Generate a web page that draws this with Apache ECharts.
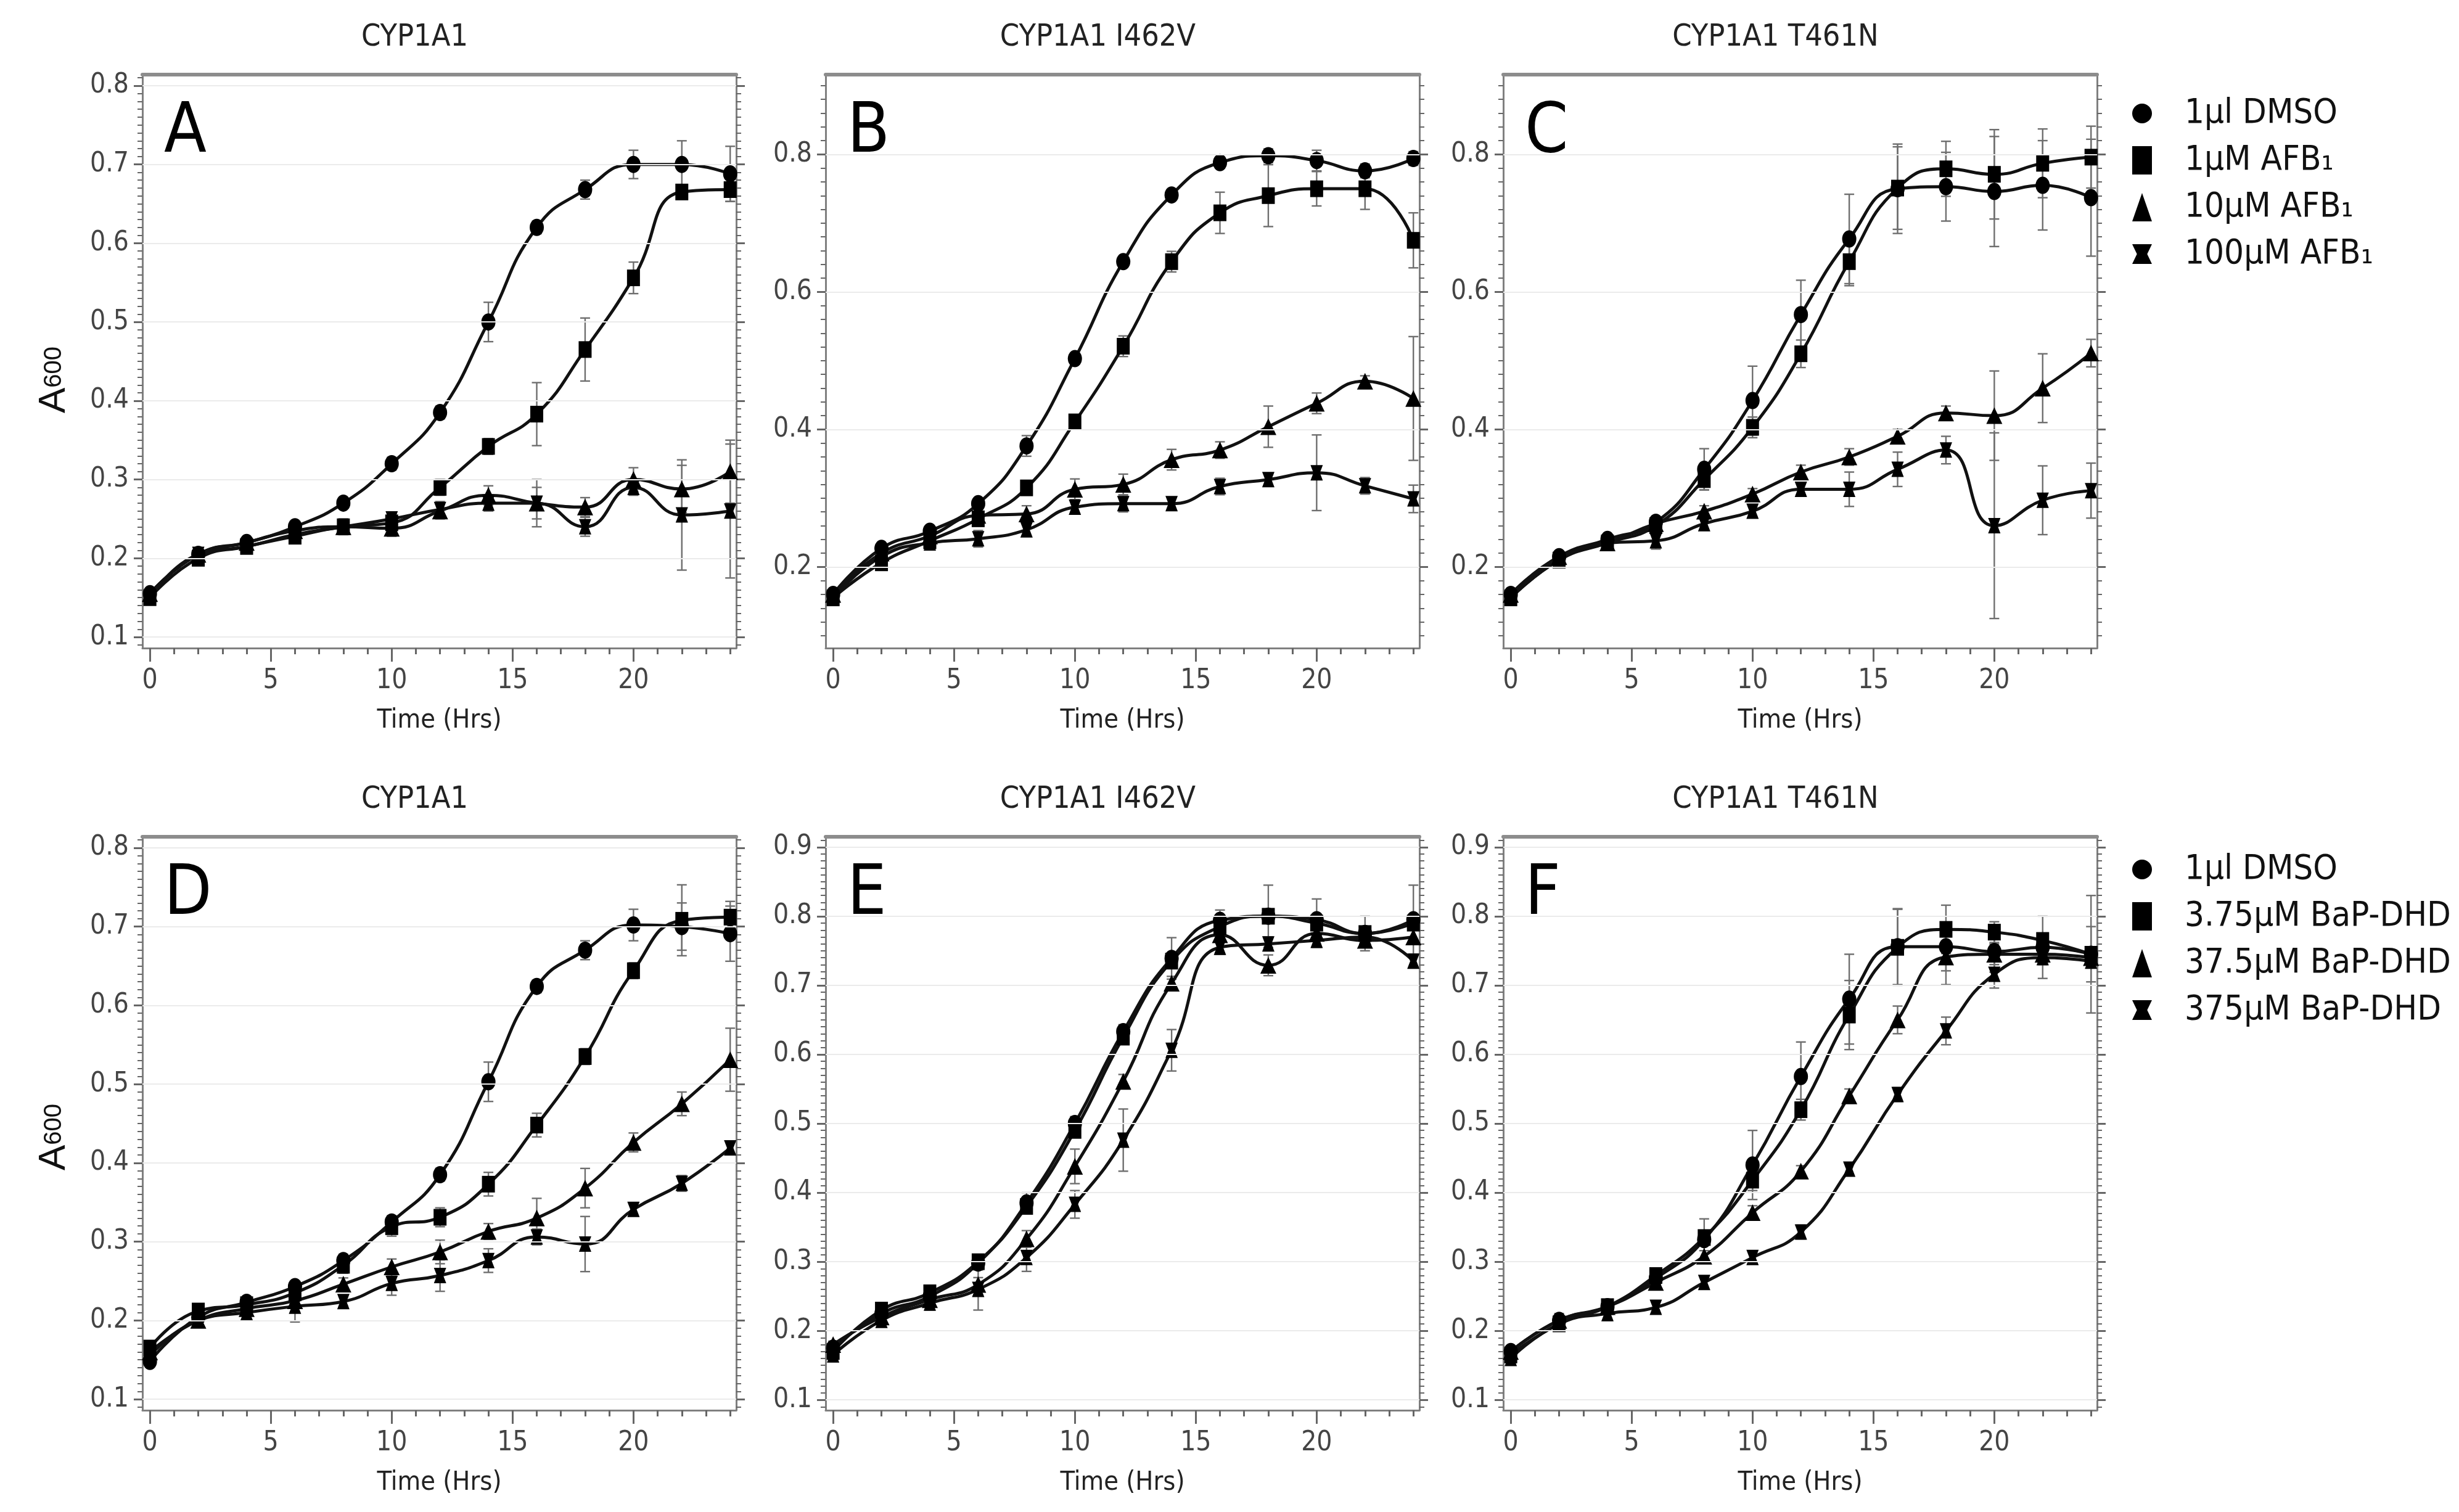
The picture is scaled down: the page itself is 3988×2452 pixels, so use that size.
<!DOCTYPE html>
<html><head><meta charset="utf-8">
<script src="https://cdn.jsdelivr.net/npm/echarts/dist/echarts.min.js"></script>
<style>html,body{margin:0;padding:0;background:#fff}#c{width:3988px;height:2452px}</style>
</head><body><div id="c"></div>
<script>
// ---------- DATA ----------
const hours = [0,2,4,6,8,10,12,14,16,18,20,22,24];
const xLabelTicks = [0,5,10,15,20];
const panelTitles = ['CYP1A1','CYP1A1 I462V','CYP1A1 T461N','CYP1A1','CYP1A1 I462V','CYP1A1 T461N'];
const panelLetters = ['A','B','C','D','E','F'];
const namesTop = ['1µl DMSO','1µM AFB₁','10µM AFB₁','100µM AFB₁'];
const namesBottom = ['1µl DMSO','3.75µM BaP-DHD','37.5µM BaP-DHD','375µM BaP-DHD'];
const yTicksAD = [0.1,0.2,0.3,0.4,0.5,0.6,0.7,0.8];
const yTicksBC = [0.2,0.4,0.6,0.8];
const yTicksEF = [0.1,0.2,0.3,0.4,0.5,0.6,0.7,0.8,0.9];

const A_dmso      = [0.155,0.205,0.22,0.24,0.27,0.32,0.385,0.50,0.62,0.668,0.70,0.70,0.688];
const A_dmso_err  = [0,0,0,0,0,0.008,0.008,0.025,0.008,0.012,0.018,0.03,0.035];
const A_afb1      = [0.15,0.20,0.215,0.228,0.24,0.245,0.29,0.342,0.383,0.465,0.556,0.665,0.668];
const A_afb1_err  = [0,0,0,0.008,0.01,0.012,0.01,0.01,0.04,0.04,0.02,0.008,0.015];
const A_afb10     = [0.155,0.205,0.22,0.235,0.24,0.238,0.26,0.28,0.27,0.265,0.30,0.288,0.31];
const A_afb10_err = [0,0,0,0,0,0.01,0.01,0.012,0.03,0.012,0.015,0.03,0.04];
const A_afb100    = [0.15,0.205,0.215,0.23,0.24,0.25,0.262,0.27,0.27,0.24,0.29,0.255,0.26];
const A_afb100_err= [0,0,0,0,0,0,0.01,0.01,0.02,0.012,0.01,0.07,0.085];

const B_dmso      = [0.16,0.227,0.252,0.292,0.376,0.503,0.644,0.741,0.788,0.798,0.791,0.776,0.794];
const B_dmso_err  = [0,0,0,0,0.015,0.008,0.008,0.008,0.008,0.01,0.015,0.01,0.01];
const B_afb1      = [0.155,0.206,0.238,0.27,0.315,0.411,0.521,0.644,0.715,0.74,0.75,0.75,0.675];
const B_afb1_err  = [0,0,0,0.01,0.01,0.01,0.015,0.015,0.03,0.045,0.025,0.03,0.04];
const B_afb10     = [0.16,0.22,0.245,0.275,0.277,0.313,0.32,0.356,0.37,0.404,0.438,0.47,0.445];
const B_afb10_err = [0,0,0,0,0.012,0.015,0.015,0.015,0.012,0.03,0.015,0.008,0.09];
const B_afb100    = [0.155,0.215,0.235,0.241,0.254,0.287,0.292,0.292,0.317,0.327,0.337,0.318,0.299];
const B_afb100_err= [0,0,0,0.012,0.008,0.01,0.012,0.008,0.012,0.008,0.055,0.012,0.02];

const C_dmso      = [0.16,0.215,0.24,0.265,0.342,0.442,0.567,0.677,0.75,0.753,0.746,0.755,0.737];
const C_dmso_err  = [0,0,0,0.008,0.03,0.05,0.05,0.065,0.065,0.05,0.08,0.065,0.085];
const C_afb1      = [0.155,0.21,0.235,0.26,0.327,0.403,0.51,0.644,0.751,0.779,0.771,0.787,0.796];
const C_afb1_err  = [0,0,0,0.008,0.015,0.015,0.02,0.035,0.06,0.04,0.065,0.05,0.045];
const C_afb10     = [0.16,0.215,0.235,0.263,0.281,0.306,0.338,0.36,0.39,0.424,0.42,0.46,0.511];
const C_afb10_err = [0,0,0,0.008,0.008,0.008,0.01,0.012,0.01,0.01,0.065,0.05,0.02];
const C_afb100    = [0.155,0.21,0.235,0.238,0.263,0.281,0.313,0.313,0.342,0.37,0.26,0.297,0.311];
const C_afb100_err= [0,0,0,0.012,0.008,0.008,0.008,0.025,0.025,0.02,0.135,0.05,0.04];

const D_dmso      = [0.148,0.204,0.223,0.243,0.276,0.325,0.385,0.503,0.624,0.67,0.702,0.70,0.691];
const D_dmso_err  = [0,0,0,0,0.008,0.008,0.008,0.025,0.008,0.012,0.02,0.03,0.035];
const D_b3        = [0.165,0.212,0.22,0.235,0.27,0.319,0.331,0.373,0.448,0.535,0.644,0.708,0.712];
const D_b3_err    = [0,0,0,0,0.01,0.012,0.012,0.015,0.015,0.01,0.01,0.045,0.02];
const D_b37       = [0.16,0.2,0.215,0.225,0.246,0.268,0.287,0.313,0.33,0.368,0.426,0.475,0.531];
const D_b37_err   = [0,0,0,0,0.008,0.01,0.015,0.01,0.025,0.025,0.012,0.015,0.04];
const D_b375      = [0.155,0.2,0.21,0.218,0.224,0.247,0.257,0.276,0.306,0.297,0.341,0.374,0.419];
const D_b375_err  = [0,0,0,0.02,0.006,0.015,0.02,0.015,0.01,0.035,0.008,0.01,0.008];

const E_dmso      = [0.175,0.225,0.25,0.298,0.385,0.5,0.633,0.739,0.794,0.80,0.795,0.775,0.795];
const E_dmso_err  = [0.01,0.01,0.01,0.01,0.015,0.01,0.01,0.03,0.015,0.045,0.03,0.025,0.05];
const E_b3        = [0.17,0.23,0.255,0.30,0.38,0.49,0.625,0.735,0.785,0.80,0.79,0.775,0.79];
const E_b3_err    = [0,0.01,0,0,0.01,0.01,0.01,0.01,0.01,0.01,0.01,0.01,0.01];
const E_b37       = [0.18,0.22,0.245,0.267,0.333,0.438,0.561,0.703,0.773,0.729,0.775,0.765,0.77];
const E_b37_err   = [0,0.01,0.01,0.01,0.012,0.025,0.01,0.01,0.01,0.015,0.01,0.01,0.01];
const E_b375      = [0.165,0.215,0.24,0.26,0.306,0.383,0.476,0.606,0.755,0.76,0.765,0.77,0.735];
const E_b375_err  = [0,0,0.01,0.03,0.02,0.02,0.045,0.03,0.01,0.01,0.01,0.01,0.01];

const F_dmso      = [0.17,0.215,0.235,0.276,0.332,0.44,0.568,0.68,0.756,0.756,0.749,0.755,0.745];
const F_dmso_err  = [0,0.01,0.01,0.01,0.03,0.05,0.05,0.065,0.055,0.035,0.03,0.045,0.085];
const F_b3        = [0.165,0.21,0.235,0.28,0.335,0.418,0.52,0.657,0.755,0.781,0.777,0.765,0.745];
const F_b3_err    = [0,0,0,0.01,0.01,0.015,0.015,0.05,0.055,0.035,0.015,0.01,0.04];
const F_b37       = [0.17,0.215,0.235,0.27,0.308,0.371,0.431,0.54,0.65,0.741,0.745,0.745,0.74];
const F_b37_err   = [0,0,0,0.008,0.008,0.01,0.008,0.01,0.02,0.04,0.015,0.01,0.01];
const F_b375      = [0.16,0.21,0.225,0.234,0.27,0.306,0.343,0.434,0.542,0.634,0.716,0.74,0.735];
const F_b375_err  = [0,0,0.01,0.008,0.008,0.008,0.01,0.008,0.01,0.02,0.02,0.01,0.01];

// ---------- LAYOUT / STYLE ----------
const FONT = "'Liberation Sans Narrow','Arial Narrow','DejaVu Sans Condensed','Liberation Sans',sans-serif";
const HOURGLASS = 'path://M0,0 L10,0 L7.6,5 L10,10 L0,10 L2.4,5 Z';
const SYMBOLS = ['circle','rect','triangle',HOURGLASS];
const SYMSIZE = [[23,28],[21,27],[26,27],[20,25]];
const colLeft = [231,1339,2438], W = 963;
const rowTop = [121,1357], H = 930;
const XMIN = -0.31, XMAX = 24.25;

function steps(a,b,s){const r=[];for(let v=a;v<=b+1e-9;v+=s)r.push(Math.round(v*1000)/1000);return r;}
const xMinorTicks = steps(0,24,1);

const panels = [
  {ymin:0.086,ymax:0.814,ticks:yTicksAD,minor:steps(0.09,0.81,0.01),names:namesTop,
   s:[[A_dmso,A_dmso_err],[A_afb1,A_afb1_err],[A_afb10,A_afb10_err],[A_afb100,A_afb100_err]]},
  {ymin:0.082,ymax:0.916,ticks:yTicksBC,minor:steps(0.1,0.9,0.02),names:namesTop,
   s:[[B_dmso,B_dmso_err],[B_afb1,B_afb1_err],[B_afb10,B_afb10_err],[B_afb100,B_afb100_err]]},
  {ymin:0.082,ymax:0.916,ticks:yTicksBC,minor:steps(0.1,0.9,0.02),names:namesTop,
   s:[[C_dmso,C_dmso_err],[C_afb1,C_afb1_err],[C_afb10,C_afb10_err],[C_afb100,C_afb100_err]]},
  {ymin:0.086,ymax:0.814,ticks:yTicksAD,minor:steps(0.09,0.81,0.01),names:namesBottom,
   s:[[D_dmso,D_dmso_err],[D_b3,D_b3_err],[D_b37,D_b37_err],[D_b375,D_b375_err]]},
  {ymin:0.085,ymax:0.915,ticks:yTicksEF,minor:steps(0.09,0.91,0.01),names:namesBottom,
   s:[[E_dmso,E_dmso_err],[E_b3,E_b3_err],[E_b37,E_b37_err],[E_b375,E_b375_err]]},
  {ymin:0.085,ymax:0.915,ticks:yTicksEF,minor:steps(0.09,0.91,0.01),names:namesBottom,
   s:[[F_dmso,F_dmso_err],[F_b3,F_b3_err],[F_b37,F_b37_err],[F_b375,F_b375_err]]}
];

function renderErr(params, api){
  const x = api.value(0), lo = api.value(1), hi = api.value(2);
  const p1 = api.coord([x, lo]), p2 = api.coord([x, hi]);
  const w = 8, st = {stroke:'#6e6e6e', lineWidth:2.4};
  return {type:'group', children:[
    {type:'line', shape:{x1:p1[0],y1:p1[1],x2:p2[0],y2:p2[1]}, style:st},
    {type:'line', shape:{x1:p1[0]-w,y1:p1[1],x2:p1[0]+w,y2:p1[1]}, style:st},
    {type:'line', shape:{x1:p2[0]-w,y1:p2[1],x2:p2[0]+w,y2:p2[1]}, style:st}
  ]};
}

const grid=[], xAxis=[], yAxis=[], series=[], title=[];
const axisColor = '#808080', tickColor = '#666';
panels.forEach((p,i)=>{
  const c = i%3, r = Math.floor(i/3);
  const L = colLeft[c], T = rowTop[r];
  grid.push({left:L, top:T, width:W, height:H, containLabel:false});
  const xi = xAxis.length, yi = yAxis.length;
  xAxis.push({type:'value', gridIndex:i, position:'bottom', min:XMIN, max:XMAX,
    axisLine:{show:true,onZero:false,lineStyle:{color:axisColor,width:3}},
    axisTick:{show:true,customValues:xLabelTicks,length:22,lineStyle:{color:tickColor,width:3}},
    axisLabel:{show:true,customValues:xLabelTicks,fontSize:44,color:'#444',margin:32,fontFamily:FONT},
    splitLine:{show:false},
    name:'Time (Hrs)', nameLocation:'middle', nameGap:96,
    nameTextStyle:{fontSize:43,color:'#222',fontFamily:FONT}});
  xAxis.push({type:'value', gridIndex:i, position:'bottom', min:XMIN, max:XMAX,
    axisLine:{show:false,onZero:false},
    axisTick:{show:true,customValues:xMinorTicks,length:10,lineStyle:{color:tickColor,width:3}},
    axisLabel:{show:false}, splitLine:{show:false}});
  xAxis.push({type:'value', gridIndex:i, position:'top', min:XMIN, max:XMAX,
    axisLine:{show:true,onZero:false,lineStyle:{color:'#8c8c8c',width:6}},
    axisTick:{show:false}, axisLabel:{show:false}, splitLine:{show:false}});
  const yMain = {type:'value', gridIndex:i, position:'left', min:p.ymin, max:p.ymax,
    axisLine:{show:true,onZero:false,lineStyle:{color:axisColor,width:3}},
    axisTick:{show:true,customValues:p.ticks,length:14,lineStyle:{color:tickColor,width:3}},
    axisLabel:{show:true,customValues:p.ticks,fontSize:44,color:'#444',margin:22,fontFamily:FONT,
      formatter:v=>Number(v).toFixed(1)},
    splitLine:{show:false}};
  if (c===0){
    yMain.name='{a|A}{b|600}'; yMain.nameLocation='middle'; yMain.nameRotate=90; yMain.nameGap=112;
    yMain.nameTextStyle={padding:[0,r===0?60:44,0,0],
      rich:{a:{fontSize:62,color:'#111',fontFamily:"'Liberation Sans',sans-serif"},
            b:{fontSize:40,color:'#111',fontFamily:"'Liberation Sans',sans-serif"}}};
  }
  yAxis.push(yMain);
  yAxis.push({type:'value', gridIndex:i, position:'left', min:p.ymin, max:p.ymax,
    axisLine:{show:false,onZero:false},
    axisTick:{show:true,customValues:p.minor,length:8,lineStyle:{color:tickColor,width:2}},
    axisLabel:{show:false}, splitLine:{show:false}});
  yAxis.push({type:'value', gridIndex:i, position:'right', min:p.ymin, max:p.ymax,
    axisLine:{show:true,onZero:false,lineStyle:{color:axisColor,width:3}},
    axisTick:{show:true,customValues:p.ticks,length:14,lineStyle:{color:tickColor,width:3}},
    axisLabel:{show:false}, splitLine:{show:false}});
  yAxis.push({type:'value', gridIndex:i, position:'right', min:p.ymin, max:p.ymax,
    axisLine:{show:false,onZero:false},
    axisTick:{show:true,customValues:p.minor,length:8,lineStyle:{color:tickColor,width:2}},
    axisLabel:{show:false}, splitLine:{show:false}});

  // error bars (+ faint grid lines)
  const errData = [];
  p.s.forEach(([m,e])=>{ hours.forEach((t,k)=>{ if(e[k]>0) errData.push([t, m[k]-e[k], m[k]+e[k]]); }); });
  series.push({type:'custom', xAxisIndex:xi, yAxisIndex:yi, renderItem:renderErr, data:errData,
    encode:{x:0,y:[1,2]}, z:1, silent:true,
    markLine:{silent:true, symbol:['none','none'], label:{show:false}, animation:false,
      lineStyle:{color:'#ebebeb',width:2,type:'solid'}, data:p.ticks.map(v=>({yAxis:v}))}});
  p.s.forEach(([m],k)=>{
    series.push({type:'line', name:p.names[k], xAxisIndex:xi, yAxisIndex:yi,
      data:hours.map((t,j)=>[t,m[j]]), smooth:true, symbol:SYMBOLS[k], symbolSize:SYMSIZE[k],
      showAllSymbol:true, lineStyle:{color:'#111',width:5}, itemStyle:{color:'#000'},
      color:'#000', z:2});
  });

  title.push({text:panelTitles[i], left:L+W/2-40, top:T-85, textAlign:'center', padding:0,
    textStyle:{fontSize:50,fontWeight:'normal',color:'#222',fontFamily:FONT}});
  title.push({text:panelLetters[i], left:L+35, top:T+40, padding:0,
    textStyle:{fontSize:112,fontWeight:'normal',color:'#000',fontFamily:FONT}});
});

function legendFor(names, top){
  return {data:names.map((n,k)=>({name:n, icon:SYMBOLS[k]})), orient:'vertical', left:3458, top:top,
    itemWidth:32, itemHeight:46, itemGap:20, padding:0, selectedMode:false,
    textStyle:{fontSize:56,color:'#111',fontFamily:FONT,padding:[0,0,0,48]}};
}

const chart = echarts.init(document.getElementById('c'));
chart.setOption({
  animation:false, backgroundColor:'#fff',
  title, grid, xAxis, yAxis, series,
  legend:[legendFor(namesTop,156), legendFor(namesBottom,1382)]
});
</script></body></html>
